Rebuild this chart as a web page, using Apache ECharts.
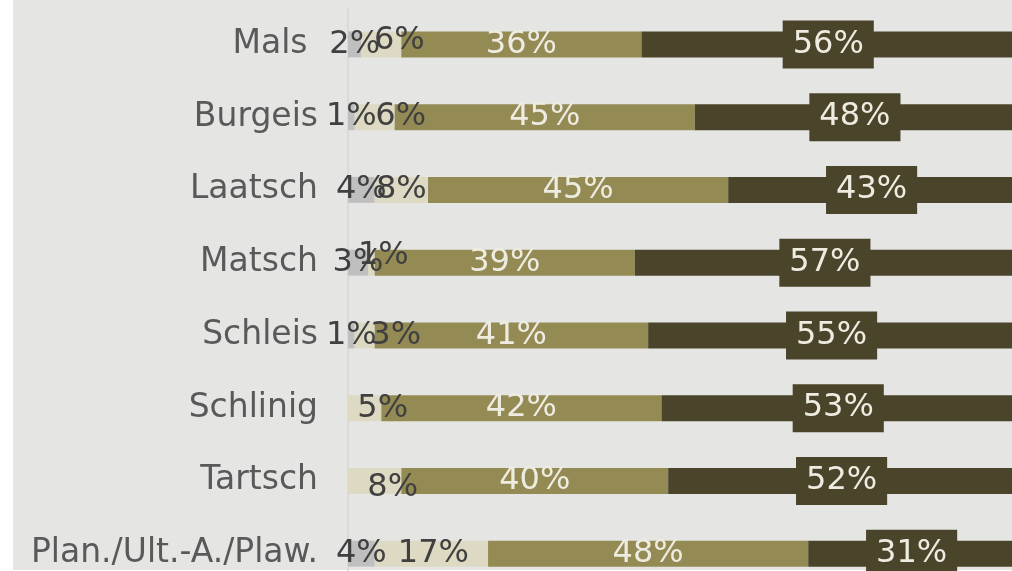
<!DOCTYPE html>
<html>
<head>
<meta charset="utf-8">
<script src="https://cdn.jsdelivr.net/npm/echarts@6/dist/echarts.min.js"></script>
<style>
  html, body { margin: 0; padding: 0; background: #ffffff; }
  #chart { width: 1012px; height: 571px; }
</style>
</head>
<body>
<div id="chart"></div>
<script>
// Anteile je Fraktion (in %)
const categories = ['Mals ', 'Burgeis', 'Laatsch', 'Matsch', 'Schleis', 'Schlinig', 'Tartsch', 'Plan./Ult.-A./Plaw.']
const greyValues = [2, 1, 4, 3, 1, 0, 0, 4]
const beigeValues = [6, 6, 8, 1, 3, 5, 8, 17]
const oliveValues = [36, 45, 45, 39, 41, 42, 40, 48]
const darkValues = [56, 48, 43, 57, 55, 53, 52, 31]

// verschobene Beschriftungen der hellen Segmente (wie im Original)
const beigeLabelShift = [[18, -4], [26, 0], [0, 0], [12, -7], [31, 0], [18, 1], [18, 7], [2, 0]]

const font = 'DejaVu Sans, Verdana, sans-serif'
const pct = p => (p.value ? p.value + '%' : '')

const myChart = echarts.init(document.getElementById('chart'))
const option = {
  animation: false,
  graphic: [{
    type: 'rect',
    z: -10,
    shape: { x: 13, y: 0, width: 999, height: 570 },
    style: { fill: '#e5e6e4' }
  }],
  grid: {
    left: 348,
    top: 8,
    width: 667, // Balken laufen rechts und unten über den Bildrand hinaus
    height: 582,
    outerBoundsMode: 'none'
  },
  xAxis: {
    type: 'value',
    min: 0,
    max: 100,
    show: false
  },
  yAxis: {
    type: 'category',
    inverse: true,
    data: categories,
    axisLine: {
      lineStyle: { color: '#d6d7d5', width: 1.5 }
    },
    axisTick: {
      length: 10,
      lineStyle: { color: '#d6d7d5', width: 1.5 }
    },
    axisLabel: {
      margin: 30,
      fontSize: 33,
      fontFamily: font,
      color: '#595959'
    }
  },
  series: [
    {
      name: 'grey',
      type: 'bar',
      stack: 'all',
      barWidth: 26,
      itemStyle: { color: '#bfbfbf' },
      label: { show: true, position: 'inside', formatter: pct, fontSize: 32, fontFamily: font, color: '#404040' },
      data: greyValues
    },
    {
      name: 'beige',
      type: 'bar',
      stack: 'all',
      itemStyle: { color: '#ddd9c3' },
      label: { show: true, position: 'inside', formatter: pct, fontSize: 32, fontFamily: font, color: '#404040' },
      data: beigeValues.map((v, i) => ({ value: v, label: { offset: beigeLabelShift[i] } }))
    },
    {
      name: 'olive',
      type: 'bar',
      stack: 'all',
      itemStyle: { color: '#948a54' },
      label: { show: true, position: 'inside', formatter: pct, fontSize: 32, fontFamily: font, color: '#eeece1' },
      data: oliveValues
    },
    {
      name: 'dark',
      type: 'bar',
      stack: 'all',
      itemStyle: { color: '#4a452a' },
      label: {
        show: true,
        position: 'inside',
        formatter: pct,
        fontSize: 32,
        fontFamily: font,
        color: '#eeece1',
        backgroundColor: '#4a452a',
        padding: [8, 10]
      },
      data: darkValues
    }
  ]
}
myChart.setOption(option)
</script>
</body>
</html>
